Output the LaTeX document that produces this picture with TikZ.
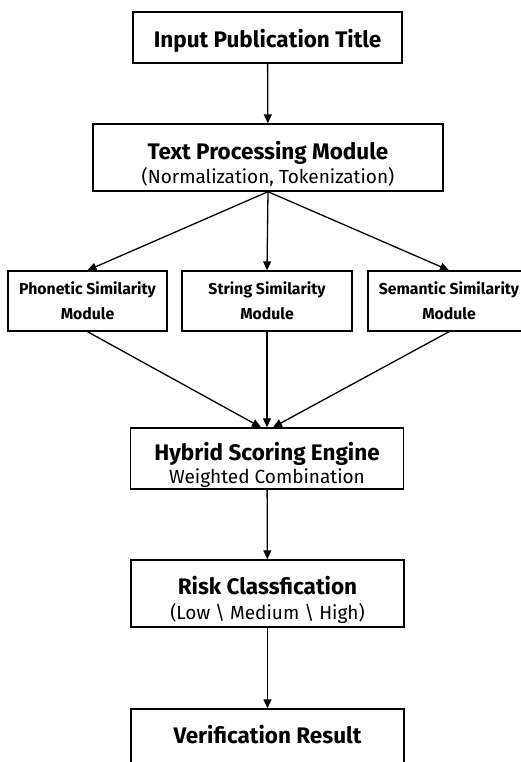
\documentclass[tikz,border=0pt]{standalone}
\usepackage{fontspec}
\setmainfont{Fira Sans}
\usepackage{tikz}
\usetikzlibrary{arrows.meta, positioning}

\tikzset{
    box/.style={draw, line width=1.4pt, align=center, inner sep=0pt},
    bigbox/.style={box, minimum width=273pt, minimum height=64pt, font=\fontsize{19}{24}\selectfont},
    modbox/.style={box, minimum height=60pt, font=\bfseries\fontsize{15.8}{25}\selectfont},
    link/.style={->, line width=1.3pt}
}
\newcommand{\headtxt}[1]{{\bfseries\fontsize{22.5}{24}\selectfont #1}}
% struts to set the text a little lower or higher in its box
\newcommand{\lowstrut}[1]{\rule{0pt}{#1}}
\newcommand{\highstrut}[1]{\rule[-#1]{0pt}{#1}}

\begin{document}
\begin{tikzpicture}[x=1pt, y=-1pt, >={Triangle[length=9pt, width=8pt]}]
    \useasboundingbox[fill=white](0,0) rectangle (521,762);

    \node[bigbox, minimum width=269pt, minimum height=51pt](input) at (267.5,37.5){\lowstrut{25pt}\headtxt{Input Publication Title}};
    \node[bigbox, minimum width=350pt, minimum height=67pt](proc) at (268,157.5){\lowstrut{31pt}\headtxt{Text Processing Module}\\(Normalization, Tokenization)};

    \node[modbox, minimum width=159pt](phon) at (87.5,301){Phonetic Similarity\\Module};
    \node[modbox, minimum width=170pt](str) at (267,301){String Similarity\\Module};
    \node[modbox, minimum width=162pt](sem) at (449,301){Semantic Similarity\\Module};

    \node[bigbox, minimum height=61pt, font=\fontsize{19}{23}\selectfont](hyb) at (267,458.5){\lowstrut{31pt}\headtxt{Hybrid Scoring Engine}\\Weighted Combination};
    \node[bigbox, minimum height=67pt, font=\fontsize{19}{25}\selectfont](risk) at (267.5,593.5){\lowstrut{31pt}\headtxt{Risk Classfication}\\(Low \textbackslash{} Medium \textbackslash{} High)};
    \node[bigbox, minimum height=67pt](ver) at (267.5,742.5){\highstrut{17pt}\headtxt{Verification Result}};

    \draw[link](input)--(proc);
    \draw[link](proc.south)--(phon.north);
    \draw[link](proc.south)--(str.north);
    \draw[link](proc.south)--(sem.north);
    \draw[link](phon.south)--([xshift=-6pt]hyb.north);
    \draw[link](str.south)--(hyb.north);
    \draw[link](sem.south)--([xshift=6pt]hyb.north);
    \draw[link](hyb)--(risk);
    \draw[link](risk)--(ver);
\end{tikzpicture}
\end{document}
